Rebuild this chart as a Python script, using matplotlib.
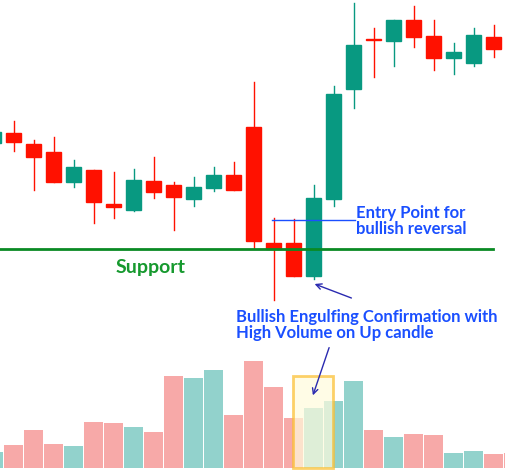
import matplotlib.pyplot as plt
from matplotlib.patches import Rectangle

# candle data (price scale = screen units, larger = lower on screen, axis is inverted)
opens  = [143, 133, 144, 152, 182, 170, 204, 210, 181, 185, 199, 188, 175, 127, 243, 243, 276, 199, 89, 39, 41, 20, 36, 58, 63, 37]
closes = [132, 142, 157, 182, 167, 202, 207, 180, 192, 197, 187, 175, 190, 241, 249, 276, 198, 94, 45, 40, 20, 37, 58, 52, 35, 49]
highs  = [125, 121, 140, 137, 160, 170, 172, 169, 157, 182, 177, 167, 162, 82, 218, 219, 185, 86, 3, 28, 20, 6, 20, 43, 28, 25]
lows   = [150, 151, 190, 182, 187, 223, 218, 211, 198, 230, 206, 191, 190, 248, 300, 276, 279, 206, 108, 77, 66, 47, 70, 74, 66, 57]

volumes = [16, 23, 38, 24, 22, 46, 45, 41, 36, 92, 90, 98, 53, 107, 81, 50, 60, 67, 87, 38, 31, 34, 33, 15, 17, 14, 15]
vol_up  = [1, 0, 0, 0, 1, 0, 0, 1, 0, 0, 1, 1, 0, 0, 0, 0, 1, 1, 1, 0, 1, 0, 0, 1, 1, 0, 0]

support_level = 249
entry_level = 220

fig = plt.figure(figsize=(5.05, 4.71), dpi=100)
ax = fig.add_axes([0, 0, 1, 1])
ax.set_xlim(0, 505)
ax.set_ylim(471, 0)
ax.axis('off')

# volume bars
vol_x = [-6.5 + 20 * i for i in range(len(volumes))]
vol_col = ['#92d2cc' if u else '#f7a9a8' for u in vol_up]
ax.bar(vol_x, [-v for v in volumes], width=19, bottom=468, color=vol_col, zorder=1)

# highlight box around engulfing volume
ax.add_patch(Rectangle((293, 376), 40, 92, facecolor='#fffbdc', edgecolor='#fbbd2c',
                       lw=2, alpha=0.7, zorder=2))

# candles
for i in range(len(opens)):
    x = -6.5 + 20 * i
    up = closes[i] < opens[i]
    c = '#089981' if up else '#ff1100'
    ax.plot([x, x], [highs[i], lows[i]], color=c, lw=1, zorder=3)
    top = min(opens[i], closes[i])
    h = max(abs(opens[i] - closes[i]), 1.2)
    ax.add_patch(Rectangle((x - 7.5, top), 15, h, color=c, zorder=4))

# support line and entry line
ax.plot([0, 493], [support_level, support_level], color='#0a8a24', lw=2, zorder=5)
ax.plot([272, 355], [entry_level, entry_level], color='#1a4fff', lw=1, zorder=5)

ax.text(116, 268, 'Support', color='#16992e', fontsize=14, fontweight='bold',
        fontfamily='Lato', va='center')
ax.text(356, 221, 'Entry Point for\nbullish reversal', color='#1a4fff', fontsize=12,
        fontweight='bold', fontfamily='Lato', va='center', linespacing=1.0)
ax.text(236, 325, 'Bullish Engulfing Confirmation with\nHigh Volume on Up candle',
        color='#1a4fff', fontsize=12, fontweight='bold', fontfamily='Lato',
        va='center', linespacing=1.0)

ax.annotate('', xy=(312, 283), xytext=(354, 299),
            arrowprops=dict(arrowstyle='->', color='#2a2ab0', lw=1))
ax.annotate('', xy=(312, 398), xytext=(330, 345),
            arrowprops=dict(arrowstyle='->', color='#2a2ab0', lw=1))

fig.savefig('out.png', dpi=100)
